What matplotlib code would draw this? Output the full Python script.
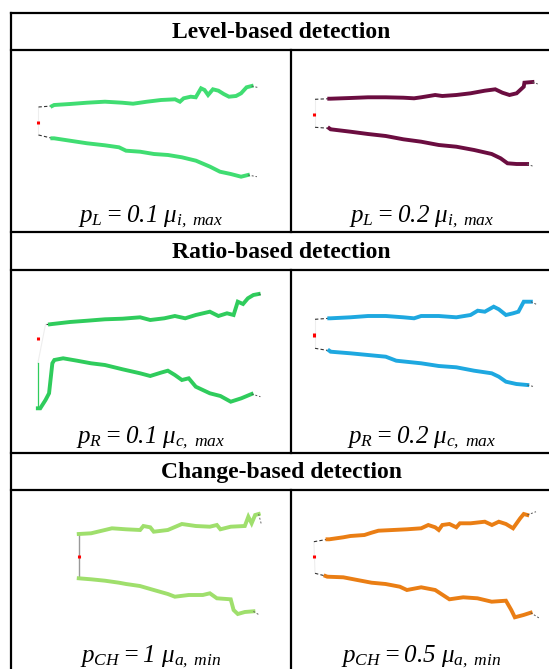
import matplotlib
matplotlib.use("Agg")
import matplotlib.pyplot as plt

plt.rcParams['font.family'] = ['Liberation Serif', 'DejaVu Serif']
plt.rcParams['mathtext.fontset'] = 'custom'
plt.rcParams['mathtext.rm'] = 'Liberation Serif:italic'
plt.rcParams['mathtext.it'] = 'Liberation Serif:italic'
plt.rcParams['mathtext.bf'] = 'Liberation Serif:bold'

W, H = 549, 669

headers = ["Level-based detection", "Ratio-based detection", "Change-based detection"]
labels = [r"$p_L = 0.1\ \mu_{i,\ max}$", r"$p_L = 0.2\ \mu_{i,\ max}$",
          r"$p_R = 0.1\ \mu_{c,\ max}$", r"$p_R = 0.2\ \mu_{c,\ max}$",
          r"$p_{CH} = 1\ \mu_{a,\ min}$", r"$p_{CH} = 0.5\ \mu_{a,\ min}$"]
colors = ['#40dd72', '#6b0d40', '#2fcc5c', '#1ea8e0', '#9fdf6c', '#ea7e14']

# --- level-based, p = 0.1 ---
lv1_up_t = [0.3, 6.5, 7.4, 14.6, 22.4, 30.5, 38.3, 43.3, 49.6, 56, 62.4, 64.6, 66.3, 69.5, 71.8,
            74.2, 75.8, 77.4, 79.6, 82.1, 84.5, 86.9, 90.1, 92.4, 94.9, 97.2, 100.4]
lv1_up_v = [12.5, 12.6, 12.7, 12.8, 12.93, 13.03, 12.93, 12.83, 13.03, 13.2, 13.27, 13.03, 13.37, 13.53, 13.47,
            14.37, 14.2, 13.7, 14.27, 14.13, 13.8, 13.53, 13.6, 13.87, 14.47, 14.6, 14.43]
lv1_lo_t = [0.3, 6.6, 7.4, 14.6, 22.4, 30.5, 36.9, 40.1, 46.5, 52.8, 59.2, 65.5, 71.9, 78.3, 82.8,
            87.7, 92.4, 95.5, 99.6]
lv1_lo_v = [9.7, 9.37, 9.37, 9.13, 8.87, 8.67, 8.47, 8.13, 8.03, 7.8, 7.7, 7.47, 7.13, 6.53, 6.03,
            5.8, 5.53, 5.7, 5.53]
lv1_start = [0.3, 10.8, 11.1]

# --- level-based, p = 0.2 ---
lv2_up_t = [0.5, 6.9, 7.5, 16.4, 24.3, 32.3, 40.2, 45, 48.2, 54.5, 57.7, 64, 70.4, 76.8, 81.5,
            84.7, 87.9, 91.1, 94.3, 94.6, 98.2, 100.6]
lv2_up_v = [13.27, 13.33, 13.33, 13.4, 13.47, 13.47, 13.43, 13.37, 13.47, 13.7, 13.6, 13.7, 13.87, 14.13, 14.27,
            13.93, 13.7, 13.87, 14.53, 14.93, 15.0, 14.8]
lv2_lo_t = [0.5, 6.9, 7.5, 16.4, 24.3, 32.3, 40.2, 48.2, 56.1, 64, 72, 79.9, 83.9, 87, 91.1, 95.8, 99]
lv2_lo_v = [10.47, 10.37, 10.27, 10.03, 9.8, 9.6, 9.27, 9.03, 8.7, 8.53, 8.2, 7.8, 7.37, 6.87, 6.8, 6.8, 6.53]
lv2_start = [0.0, 11.6, 11.87]

# --- ratio-based, p = 0.1 ---
rt1_up_t = [3.5, 5.5, 6.6, 14.6, 22.5, 30.5, 38.5, 46.5, 51.1, 57.5, 62.3, 67, 71.8, 78.2, 82.1,
            86, 89, 90.9, 93.3, 95.5, 98, 100.4, 101.9]
rt1_up_v = [12.87, 12.87, 12.9, 13.1, 13.23, 13.37, 13.43, 13.57, 13.3, 13.47, 13.7, 13.47, 13.8, 14.13, 13.7,
            13.97, 13.8, 15.13, 14.9, 15.47, 15.8, 15.9, 15.8]
rt1_lo_t = [0, 0, 1.1, 3.5, 5.1, 6.6, 7.5, 11.5, 17.8, 24.2, 30.5, 38.5, 46.5, 51.1, 55.9, 59.1, 62.3,
            65.5, 68.6, 71.8, 78.2, 83, 87.7, 92.5, 97.2, 101.2]
rt1_lo_v = [8.97, 4.47, 4.47, 5.3, 5.97, 8.97, 9.3, 9.47, 9.23, 8.97, 8.8, 8.37, 7.97, 7.7, 8.03, 8.23, 7.8,
            7.3, 7.47, 6.63, 5.97, 5.7, 5.13, 5.47, 5.9, 5.63]
rt1_start = [0.0, 11.3, 11.57]

# --- ratio-based, p = 0.2 ---
rt2_up_t = [0.5, 6.9, 7.5, 16.4, 24.3, 32.3, 40.2, 45, 48.2, 56.1, 64, 70.4, 73.6, 76.8, 80.8,
            83.1, 86.3, 89.5, 91.9, 94.3, 97.5, 100.6]
rt2_up_v = [13.37, 13.47, 13.47, 13.57, 13.7, 13.7, 13.57, 13.47, 13.7, 13.7, 13.57, 13.8, 14.23, 14.13, 14.63,
            14.37, 13.8, 13.97, 14.13, 15.13, 15.13, 14.8]
rt2_lo_t = [0.5, 6.9, 7.5, 16.4, 24.3, 32.3, 37, 48.2, 56.1, 64, 72, 79.9, 83.1, 86.3, 91, 95.9, 99]
rt2_lo_v = [10.47, 10.23, 10.13, 9.97, 9.8, 9.63, 9.23, 8.97, 8.7, 8.57, 8.23, 7.97, 7.63, 7.13, 6.9, 6.8, 6.63]
rt2_start = [0.0, 11.63, 11.97]

# --- change-based, p = 1 ---
ch1_up_t = [18.6, 24.2, 30.5, 33.7, 40.1, 46.5, 48, 51.1, 52.7, 59.1, 65.5, 71.8, 78.2, 81.4, 83,
            87.7, 94.1, 95.7, 97.2, 98.8, 100.4, 101.7]
ch1_up_v = [13.8, 13.87, 14.2, 14.37, 14.27, 14.2, 14.6, 14.47, 14.03, 14.2, 14.8, 14.6, 14.53, 14.7, 14.27,
            14.53, 14.6, 15.53, 14.87, 15.7, 15.8, 14.7]
ch1_lo_t = [18.6, 24.2, 30.5, 36.9, 40.1, 46.4, 52.7, 59.1, 62.3, 68.6, 75, 78.2, 81.4, 87.7, 89,
            90.9, 94.1, 98, 100.7]
ch1_lo_v = [9.37, 9.27, 9.13, 8.93, 8.8, 8.6, 8.2, 7.8, 7.53, 7.7, 7.7, 7.87, 7.37, 7.27, 6.2,
            5.8, 6.0, 6.07, 5.7]
ch1_start = [18.6, 11.45, 11.75]

# --- change-based, p = 0.5 ---
ch2_up_t = [0, 6.1, 6.9, 13.2, 16.4, 22.7, 25.9, 29, 35.5, 41.8, 48.2, 51.4, 54.5, 56.1, 57.7, 60.9,
            64, 65.6, 70.4, 76.8, 80, 83.1, 86.3, 89.5, 92.7, 94.3, 95.9, 99.8]
ch2_up_v = [13.03, 13.27, 13.27, 13.47, 13.6, 13.7, 13.93, 14.13, 14.2, 14.27, 14.37, 14.7, 14.47, 14.2, 14.7, 14.8,
            14.47, 14.87, 14.87, 15.03, 14.7, 15.03, 14.8, 14.37, 15.37, 15.8, 15.7, 16.03]
ch2_lo_t = [0.5, 5.2, 6, 13.2, 19.5, 25.9, 32.2, 38.6, 41.8, 48.2, 54.5, 60.9, 67.1, 73.5, 79.9,
            86.3, 88.7, 90.3, 94.2, 97.4, 101.4]
ch2_lo_v = [9.87, 9.6, 9.53, 9.47, 9.2, 8.93, 8.8, 8.53, 8.2, 8.47, 8.2, 7.27, 7.47, 7.37, 7.03,
            7.13, 6.2, 5.47, 5.7, 5.93, 5.37]
ch2_start = [0.0, 11.45, 11.75]

panels = [
    (lv1_up_t, lv1_up_v, lv1_lo_t, lv1_lo_v, lv1_start),
    (lv2_up_t, lv2_up_v, lv2_lo_t, lv2_lo_v, lv2_start),
    (rt1_up_t, rt1_up_v, rt1_lo_t, rt1_lo_v, rt1_start),
    (rt2_up_t, rt2_up_v, rt2_lo_t, rt2_lo_v, rt2_start),
    (ch1_up_t, ch1_up_v, ch1_lo_t, ch1_lo_v, ch1_start),
    (ch2_up_t, ch2_up_v, ch2_lo_t, ch2_lo_v, ch2_start),
]

# table geometry in pixels
x_left, x_mid, x_right = 11, 291, 552
row_top = [13, 232, 453]      # header top
row_mid = [50, 270, 490]      # header bottom / panel top
row_bot = [232, 453, 672]     # panel bottom
label_y = [222, 443, 662]     # label baselines
col_xlim = [(-12.2, 115.1), (-10.3, 107.0)]

fig = plt.figure(figsize=(W / 100, H / 100), dpi=100)
bg = fig.add_axes([0, 0, 1, 1])
bg.set_xlim(0, W)
bg.set_ylim(H, 0)
bg.axis('off')

lw_tab = 1.6
bg.plot([x_left, x_right], [row_top[0], row_top[0]], color='black', lw=lw_tab, solid_capstyle='projecting')
bg.plot([x_left, x_left], [row_top[0], H + 5], color='black', lw=lw_tab)
for r in range(3):
    bg.plot([x_left, x_right], [row_mid[r], row_mid[r]], color='black', lw=lw_tab)
    if r > 0:
        bg.plot([x_left, x_right], [row_top[r], row_top[r]], color='black', lw=lw_tab)
    bg.plot([x_mid, x_mid], [row_mid[r], min(row_bot[r], H + 5)], color='black', lw=lw_tab)
    bg.text((x_left + x_right) / 2, (row_top[r] + row_mid[r]) / 2 + 1, headers[r],
            ha='center', va='center', fontsize=17, fontweight='bold')

for k, (ut, uv, lt, lv, st) in enumerate(panels):
    r, c = divmod(k, 2)
    x0 = x_left if c == 0 else x_mid
    x1 = x_mid if c == 0 else x_right
    ax = fig.add_axes([x0 / W, 1 - row_bot[r] / H, (x1 - x0) / W, (row_bot[r] - row_mid[r]) / H])
    ax.set_xlim(*col_xlim[c])
    ax.set_ylim(0, (row_bot[r] - row_mid[r]) / 10)
    ax.axis('off')
    col = colors[k]

    # connector at start
    if k == 4:
        ax.plot([ut[0], lt[0]], [uv[0], lv[0]], color='#999999', lw=1.0)
    else:
        ax.plot([ut[0], lt[0]], [uv[0], lv[0]], color='#eeeeee', lw=0.8)

    for t, v in ((ut, uv), (lt, lv)):
        if k == 4:
            ax.plot(t[:-1], v[:-1], color=col, lw=2.8, solid_joinstyle='miter')
            ax.plot(t[-2:], v[-2:], color='#666666', lw=0.7, ls=(0, (2, 2)))
            continue
        if k == 2 and t is lt:
            ax.plot(t[:2], v[:2], color=col, lw=0.9)
            ax.plot(t[1:-1], v[1:-1], color=col, lw=2.8, solid_joinstyle='miter')
        else:
            ax.plot(t[:2], v[:2], color='#333333', lw=0.8, ls=(0, (3, 2)))
            ax.plot(t[1:-1], v[1:-1], color=col, lw=2.8, solid_joinstyle='miter')
        ax.plot(t[-2:], v[-2:], color='#555555', lw=0.7, ls=(0, (2, 2)))

    ax.plot([st[0], st[0]], [st[1], st[2]], color='red', lw=2.2, solid_capstyle='butt')

    bg.text((x0 + x1) / 2, label_y[r], labels[k], ha='center', va='baseline', fontsize=18)

fig.savefig('out.png', dpi=100)
